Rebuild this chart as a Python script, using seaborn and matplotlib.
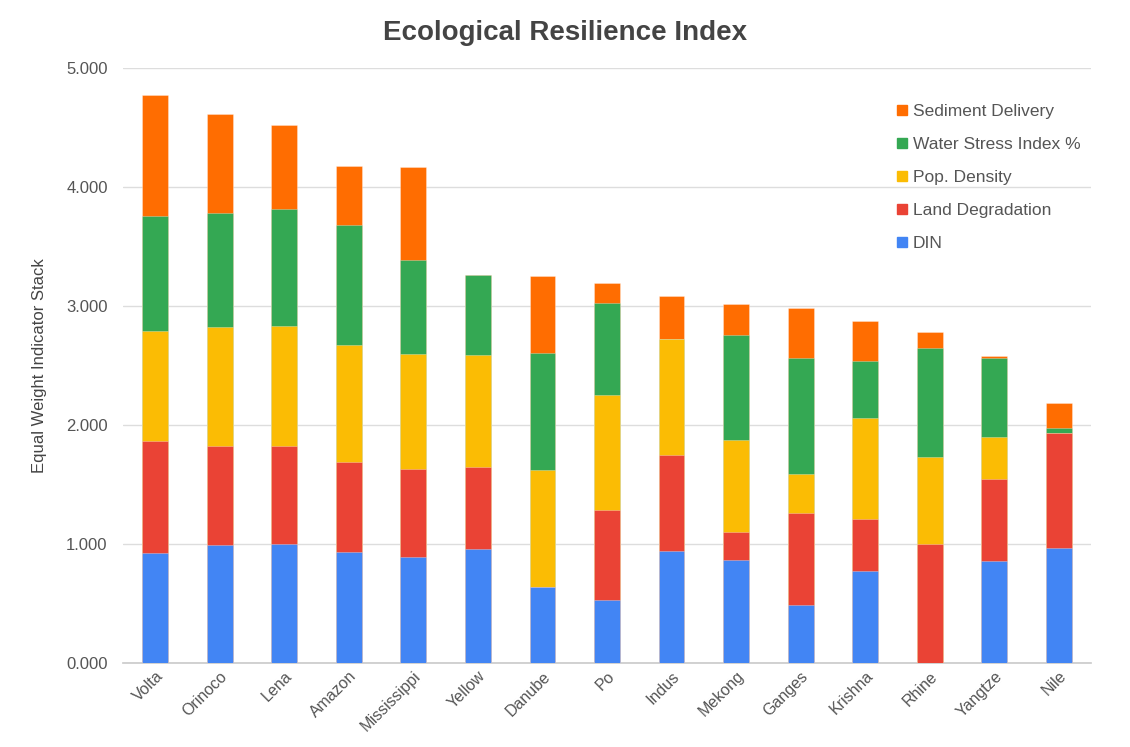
import numpy as np
import pandas as pd
import matplotlib
matplotlib.use("Agg")
import matplotlib.pyplot as plt
import seaborn as sns
from matplotlib.lines import Line2D

rivers = ["Volta", "Orinoco", "Lena", "Amazon", "Mississippi", "Yellow", "Danube",
          "Po", "Indus", "Mekong", "Ganges", "Krishna", "Rhine", "Yangtze", "Nile"]
din = [0.924, 0.991, 1.003, 0.935, 0.890, 0.958, 0.638, 0.531, 0.944, 0.868, 0.486, 0.773, 0.000, 0.857, 0.966]
land_degradation = [0.944, 0.831, 0.819, 0.756, 0.744, 0.691, 0.000, 0.755, 0.802, 0.233, 0.778, 0.438, 1.003, 0.691, 0.969]
pop_density = [0.918, 0.998, 1.009, 0.985, 0.963, 0.940, 0.985, 0.963, 0.975, 0.775, 0.328, 0.850, 0.732, 0.350, 0.000]
water_stress = [0.974, 0.965, 0.985, 1.008, 0.790, 0.671, 0.978, 0.778, 0.000, 0.879, 0.975, 0.475, 0.908, 0.666, 0.039]
sediment = [1.011, 0.832, 0.702, 0.492, 0.780, 0.000, 0.648, 0.166, 0.360, 0.261, 0.415, 0.337, 0.135, 0.014, 0.208]

series_names = ["DIN", "Land Degradation", "Pop. Density", "Water Stress Index %", "Sediment Delivery"]
series_vals = [din, land_degradation, pop_density, water_stress, sediment]
colors = ["#4285F4", "#EA4335", "#FBBC04", "#34A853", "#FF6D01"]

sns.set_theme(style="white")
plt.rcParams["font.family"] = ["Liberation Sans", "DejaVu Sans"]

fig = plt.figure(figsize=(11.3, 7.47), dpi=100)
ax = fig.add_axes([123 / 1130, 1 - 663 / 747, (1091 - 123) / 1130, (663 - 68) / 747])

cum = np.cumsum(np.array(series_vals), axis=0)
# draw from the top of the stack downward so lower segments overlay upper ones
for i in range(len(series_names) - 1, -1, -1):
    df = pd.DataFrame({"river": rivers, "value": cum[i]})
    sns.barplot(data=df, x="river", y="value", color=colors[i], saturation=1,
                width=0.4, ax=ax, linewidth=0.6, edgecolor=(1, 1, 1, 0.35), zorder=3)

ax.set_ylim(0, 5)
ax.set_xlim(-0.5, len(rivers) - 0.5)
ax.set_yticks([0, 1, 2, 3, 4, 5])
ax.set_yticklabels([f"{v:.3f}" for v in [0, 1, 2, 3, 4, 5]], fontsize=12, color="#555555")
ax.yaxis.grid(True, color="#DDDDDD", linewidth=1, zorder=0)
ax.set_axisbelow(True)
for s in ["left", "right", "top"]:
    ax.spines[s].set_visible(False)
ax.spines["bottom"].set_color("#CCCCCC")
ax.tick_params(axis="y", length=0, pad=11)
ax.tick_params(axis="x", length=0, pad=4)
plt.setp(ax.get_xticklabels(), rotation=45, ha="right", rotation_mode="anchor",
         fontsize=11.5, color="#555555")
ax.set_xlabel("")
ax.set_ylabel("Equal Weight Indicator Stack", fontsize=12, color="#444444", labelpad=14)

fig.text(0.5, 1 - 33 / 747, "Ecological Resilience Index", ha="center", va="center",
         fontsize=20, fontweight="bold", color="#444444")

handles = [Line2D([0], [0], marker="s", linestyle="", markersize=7,
                  markerfacecolor=colors[i], markeredgecolor=colors[i])
           for i in range(len(series_names) - 1, -1, -1)]
labels = series_names[::-1]
leg = ax.legend(handles, labels, loc="upper left", bbox_to_anchor=(0.79, 0.951),
                frameon=False, fontsize=12.5, labelspacing=1.02, handletextpad=0.15,
                handlelength=0.9, borderaxespad=0)
for t in leg.get_texts():
    t.set_color("#555555")

fig.savefig("out.png", dpi=100, facecolor="white")
